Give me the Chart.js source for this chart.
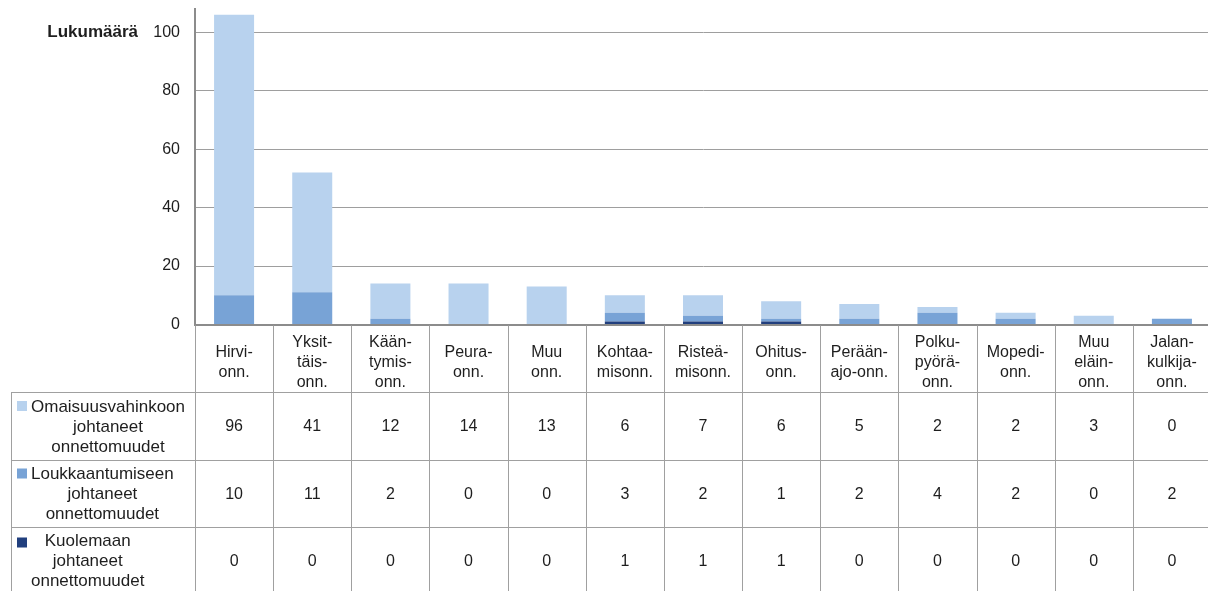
<!DOCTYPE html>
<html><head><meta charset="utf-8">
<script src="https://cdn.jsdelivr.net/npm/chart.js@4/dist/chart.umd.min.js"></script>
<style>
html,body{margin:0;padding:0;overflow:hidden;background:#fff;width:1208px;height:591px}
#wrap{width:1211px;height:591px}
</style>
</head><body><div id="wrap"><canvas id="c" width="1211" height="591"></canvas></div>
<script>
const categories = [
  ["Hirvi-","onn."],["Yksit-","täis-","onn."],["Kään-","tymis-","onn."],["Peura-","onn."],
  ["Muu","onn."],["Kohtaa-","misonn."],["Risteä-","misonn."],["Ohitus-","onn."],
  ["Perään-","ajo-onn."],["Polku-","pyörä-","onn."],["Mopedi-","onn."],["Muu","eläin-","onn."],
  ["Jalan-","kulkija-","onn."]
];
const seriesLabels = [
  ["Omaisuusvahinkoon","johtaneet","onnettomuudet"],
  ["Loukkaantumiseen","johtaneet","onnettomuudet"],
  ["Kuolemaan","johtaneet","onnettomuudet"]
];
const omaisuus = [96,41,12,14,13,6,7,6,5,2,2,3,0];
const loukkaantuminen = [10,11,2,0,0,3,2,1,2,4,2,0,2];
const kuolema = [0,0,0,0,0,1,1,1,0,0,0,0,0];
const yTicks = [0,20,40,60,80,100];
const yMax = 108;
const yTitle = "Lukumäärä";

const colors = ['#B8D2EE','#78A3D6','#213F7E'];
const FONT = "'Liberation Sans', Arial, sans-serif";
const TXT = '#1e1e1e';

const tablePlugin = {
  id:'tablePlugin',
  afterDraw(chart){
    const ctx = chart.ctx, xs = chart.scales.x, area = chart.chartArea;
    const n = categories.length;
    const w = xs.getPixelForValue(1) - xs.getPixelForValue(0);
    const left0 = xs.getPixelForValue(0) - w/2;
    const rowTops = [392, 460, 527, 594];
    const right = left0 + n*w;
    ctx.save();
    ctx.strokeStyle = '#a0a0a0'; ctx.lineWidth = 1;
    const ln = (x1,y1,x2,y2)=>{ctx.beginPath();ctx.moveTo(x1,y1);ctx.lineTo(x2,y2);ctx.stroke();};
    rowTops.forEach(y => ln(11, y+0.5, right, y+0.5));
    ln(11.5, rowTops[0], 11.5, 594);
    for (let k=0;k<=n;k++){
      const bx = Math.round(left0 + k*w) + 0.5;
      ln(bx, area.bottom+1, bx, 594);
    }
    // values
    const rowsData = [omaisuus, loukkaantuminen, kuolema];
    ctx.fillStyle = TXT;
    ctx.font = '16px ' + FONT;
    ctx.textAlign = 'center'; ctx.textBaseline = 'middle';
    rowsData.forEach((arr, r) => {
      const cy = (rowTops[r] + rowTops[r+1]) / 2 + 1;
      arr.forEach((v, i) => ctx.fillText(String(v), xs.getPixelForValue(i), cy));
    });
    // legend cells
    ctx.font = '17px ' + FONT;
    seriesLabels.forEach((lines, r) => {
      const cy = (rowTops[r] + rowTops[r+1]) / 2 + 1;
      const first = cy - 20;
      ctx.fillStyle = colors[r];
      ctx.fillRect(17, first - 6 + (r === 2 ? 2 : 0), 10, 10);
      ctx.fillStyle = TXT;
      const maxW = Math.max(...lines.map(s => ctx.measureText(s).width));
      const cx = 31 + maxW/2;
      lines.forEach((s, j) => ctx.fillText(s, cx, first + j*20));
    });
    // y title
    ctx.font = 'bold 17px ' + FONT;
    ctx.textAlign = 'right';
    ctx.fillText(yTitle, 138, 32);
    ctx.restore();
  }
};

new Chart(document.getElementById('c'), {
  type: 'bar',
  data: {
    labels: categories,
    datasets: [
      {label: seriesLabels[2].join(' '), data: kuolema, backgroundColor: colors[2]},
      {label: seriesLabels[1].join(' '), data: loukkaantuminen, backgroundColor: colors[1]},
      {label: seriesLabels[0].join(' '), data: omaisuus, backgroundColor: colors[0]}
    ]
  },
  options: {
    responsive: false,
    animation: false,
    devicePixelRatio: 1,
    layout: {padding: {top: 9, left: 0, right: 0, bottom: 0}},
    datasets: {bar: {categoryPercentage: 1, barPercentage: 0.512, borderWidth: 0}},
    plugins: {legend: {display: false}, tooltip: {enabled: false}},
    scales: {
      x: {
        stacked: true,
        grid: {display: false, drawTicks: false},
        border: {display: true, color: '#8c8c8c', width: 2},
        ticks: {
          color: TXT, font: {family: FONT, size: 16, lineHeight: 1.25},
          padding: 18, crossAlign: 'center', maxRotation: 0, autoSkip: false
        },
        afterFit(scale){ scale.height = 266.5; scale.paddingLeft = 0; scale.paddingRight = 0; }
      },
      y: {
        stacked: true,
        min: 0, max: yMax,
        grid: {color: '#9e9e9e', lineWidth: 1, drawTicks: false},
        border: {display: true, color: '#8c8c8c', width: 2},
        ticks: {color: TXT, font: {family: FONT, size: 16}, padding: 15, includeBounds: false, stepSize: 20},
        afterBuildTicks(scale){ scale.ticks = yTicks.map(v => ({value: v})); },
        afterFit(scale){ scale.width = 195; scale.paddingTop = 0; scale.paddingBottom = 0; }
      }
    }
  },
  plugins: [tablePlugin]
});
</script>
</body></html>
